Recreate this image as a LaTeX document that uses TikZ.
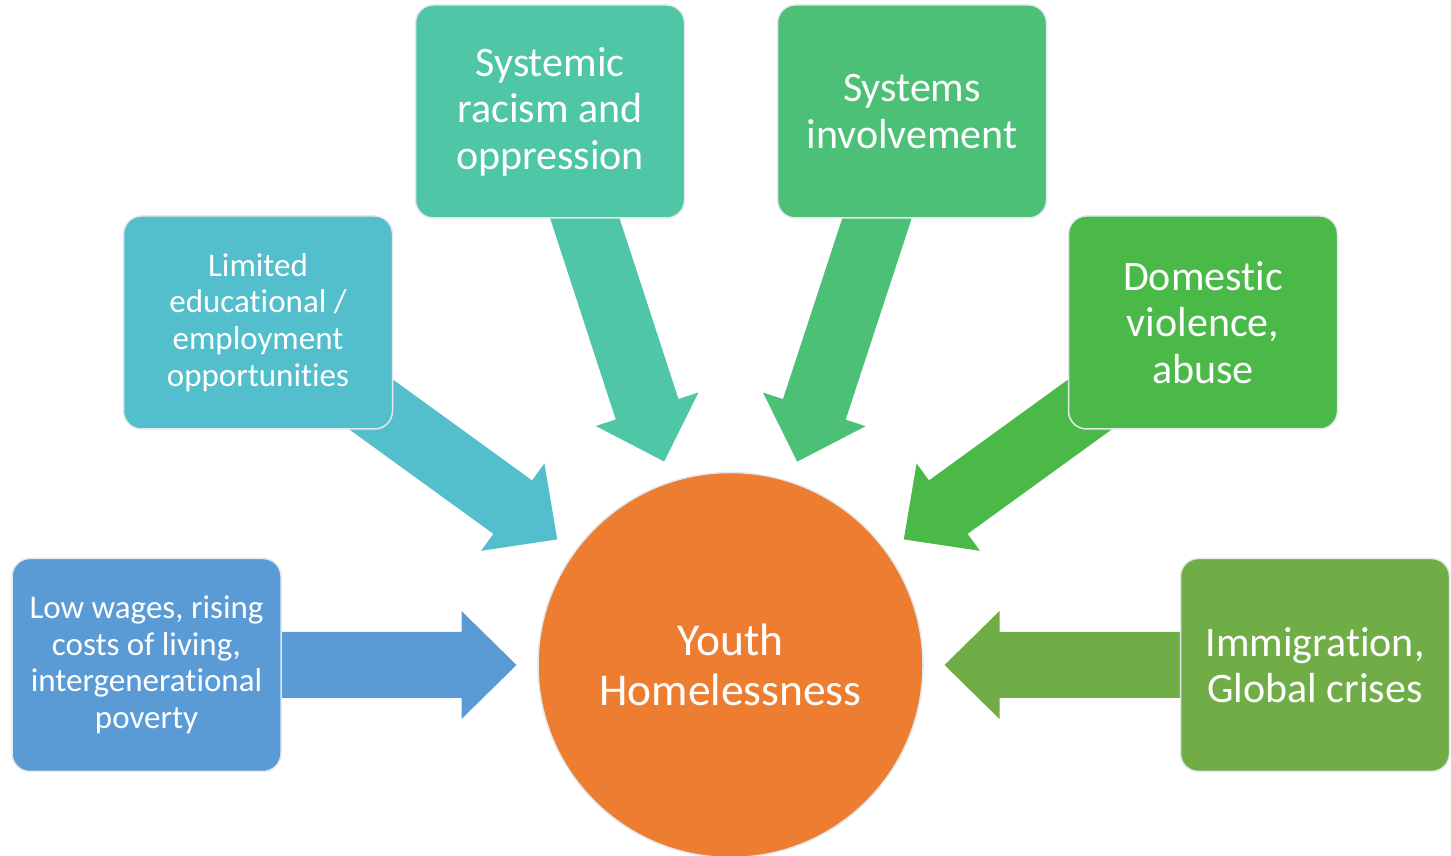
\documentclass[tikz,border=0pt]{standalone}
\usepackage{fontspec}
\setmainfont{Carlito}[Ligatures=NoCommon]
\usetikzlibrary{calc}
\pgfdeclarelayer{bg}
\pgfsetlayers{bg,main}
\definecolor{cBlue}{HTML}{5B9BD5}
\definecolor{cCyan}{HTML}{53BFCC}
\definecolor{cTeal}{HTML}{4FC6A6}
\definecolor{cMint}{HTML}{4BC076}
\definecolor{cGreen}{HTML}{4AB948}
\definecolor{cOlive}{HTML}{70AD47}
\definecolor{cOrange}{HTML}{ED7D31}
\definecolor{cEdge}{HTML}{E4E8EC}
\tikzset{
  causebox/.style={draw=cEdge, line width=1.5pt, rounded corners=18pt,
    minimum width=269pt, minimum height=213pt, text=white, align=center,
    inner sep=2pt},
  smalltxt/.style={font=\fontsize{33}{36.6}\selectfont},
  bigtxt/.style={font=\fontsize{42}{46.5}\selectfont},
  hubnode/.style={circle, draw=cEdge, line width=1.5pt, fill=cOrange,
    minimum size=385pt, inner sep=0pt, text=white, align=center,
    font=\fontsize{45.5}{50}\selectfont}
}
\newcommand\causearrow[2]{%
  \coordinate (T) at ($(hub.center)!214pt!(#1.center)$);
  \coordinate (H) at ($(T)!55pt!(#1.center)$);
  \fill[#2] (T) -- ($(H)!54pt!90:(T)$) -- ($(H)!33pt!90:(T)$)
    -- ($(#1.center)!33pt!90:(T)$) -- ($(#1.center)!33pt!-90:(T)$)
    -- ($(H)!33pt!-90:(T)$) -- ($(H)!54pt!-90:(T)$) -- cycle;
}
\begin{document}
\begin{tikzpicture}[x=1pt,y=1pt]
\useasboundingbox (0,0) rectangle (1451,856);
\node[hubnode] (hub) at (730.5,191) {Youth\\Homelessness};
\node[causebox, smalltxt, fill=cBlue] (b1) at (146.5,191) {Low wages, rising\\costs of living,\\intergenerational\\poverty};
\node[causebox, smalltxt, fill=cCyan] (b2) at (258,533.5) {Limited\\educational /\\employment\\opportunities};
\node[causebox, bigtxt, fill=cTeal] (b3) at (550,744.5) {Systemic\\racism and\\oppression};
\node[causebox, bigtxt, fill=cMint] (b4) at (912,744.5) {Systems\\involvement};
\node[causebox, bigtxt, fill=cGreen] (b5) at (1203,533.5) {Domestic\\violence,\\abuse};
\node[causebox, bigtxt, fill=cOlive] (b6) at (1315,191) {Immigration,\\Global crises};
\begin{pgfonlayer}{bg}
\causearrow{b1}{cBlue}
\causearrow{b2}{cCyan}
\causearrow{b3}{cTeal}
\causearrow{b4}{cMint}
\causearrow{b5}{cGreen}
\causearrow{b6}{cOlive}
\end{pgfonlayer}
\end{tikzpicture}
\end{document}
